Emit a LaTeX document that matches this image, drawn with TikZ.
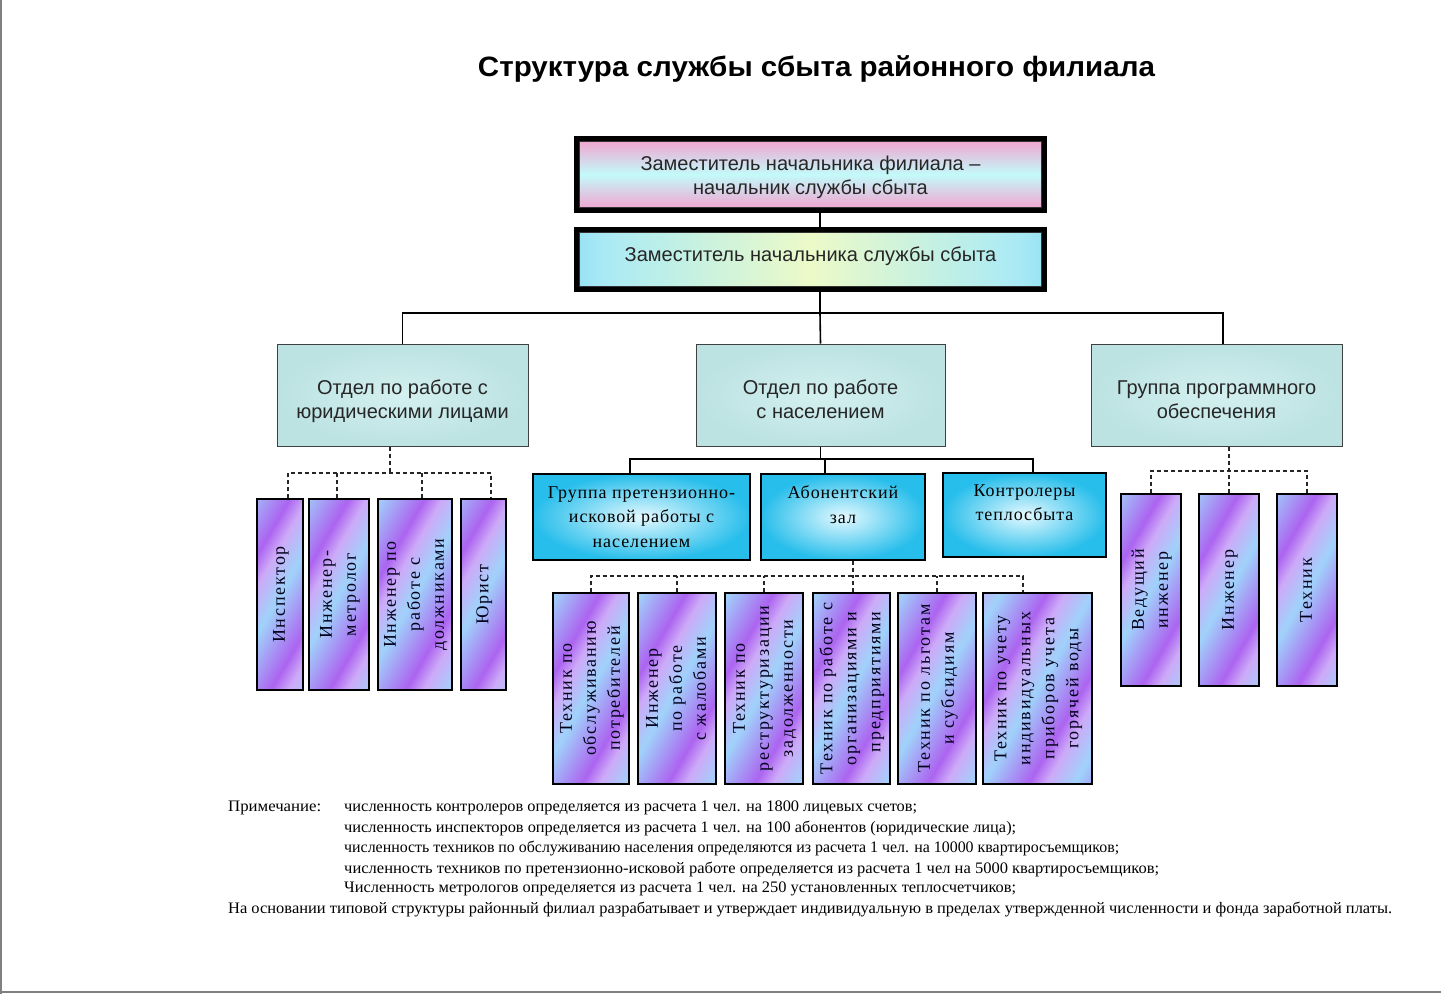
\documentclass[tikz,border=0pt]{standalone}
\usepackage{fontspec}
\usepackage{graphicx}
\usepackage{calc}
\setmainfont{Liberation Serif}
\newfontfamily\arialf{Liberation Sans}
\newfontfamily\vfont[LetterSpace=10]{Liberation Serif}
\newfontfamily\cfont[LetterSpace=5]{Liberation Serif}
\definecolor{stA}{RGB}{160,210,250}
\definecolor{stB}{RGB}{172,100,240}
\definecolor{stC}{RGB}{205,170,248}
\definecolor{pinkA}{RGB}{244,160,205}
\definecolor{cyanA}{RGB}{195,250,250}
\definecolor{cyB}{RGB}{50,190,238}
\definecolor{cyL}{RGB}{170,234,245}
\definecolor{grB}{RGB}{236,250,200}
\definecolor{tealA}{RGB}{212,240,240}
\definecolor{tealB}{RGB}{188,226,226}
\definecolor{skyA}{RGB}{40,190,235}
\definecolor{skyB}{RGB}{228,249,255}
\definecolor{frameg}{RGB}{128,128,128}
\pgfdeclarehorizontalshading{vstripes}{100bp}{color(0bp)=(stA); color(8.3bp)=(stB); color(11.5bp)=(stC); color(16.7bp)=(stA); color(25bp)=(stB); color(28.2bp)=(stC); color(33.3bp)=(stA); color(41.7bp)=(stB); color(44.9bp)=(stC); color(50bp)=(stA); color(58.3bp)=(stB); color(61.5bp)=(stC); color(66.7bp)=(stA); color(75bp)=(stB); color(78.2bp)=(stC); color(83.3bp)=(stA); color(91.7bp)=(stB); color(94.9bp)=(stC); color(100bp)=(stA)}
\pgfdeclarehorizontalshading{bgreen}{100bp}{color(0bp)=(cyB); color(9bp)=(cyB); color(28bp)=(cyL); color(50bp)=(grB); color(72bp)=(cyL); color(91bp)=(cyB); color(100bp)=(cyB)}
\newcommand{\fitw}[2]{\resizebox{#1pt}{\height}{#2}}
\newcommand{\vtext}[1]{\rotatebox{90}{\begin{tabular}{@{}c@{}}#1\end{tabular}}}
\newcommand{\btext}[2]{\raisebox{#1pt}[\height][\depth]{\begin{tabular}{@{}c@{}}#2\end{tabular}}}
\tikzset{
  conn/.style={line width=1.6pt, draw=black},
  dconn/.style={line width=1.5pt, draw=black!85, dash pattern=on 4pt off 3pt},
  topbox/.style={draw=black, line width=5pt, inner sep=0pt,
    font=\arialf\fontsize{20}{24}\selectfont, text=black!85},
  deptbox/.style={draw=black!75, line width=1pt, inner color=tealA, outer color=tealB,
    inner sep=0pt, font=\arialf\fontsize{20}{24}\selectfont, text=black!85},
  subbox/.style={draw=black, line width=1.2pt, inner color=skyB, outer color=skyA,
    inner sep=0pt, align=center, font=\cfont\fontsize{18}{24.5}\selectfont},
  vbox/.style={draw=black, line width=1.2pt, fill=stA, inner sep=0pt,
    font=\vfont\fontsize{18}{24}\selectfont, text=black!90!blue,
    path picture={\shade[shading=vstripes, shading angle=-30]
      ([shift={(-120,-120)}]path picture bounding box.center) rectangle
      ([shift={(120,120)}]path picture bounding box.center);}},
  note/.style={anchor=west, inner sep=0pt, font=\fontsize{16}{18}\selectfont}
}
\begin{document}
\begin{tikzpicture}[x=1pt,y=-1pt]
\useasboundingbox (0,0) rectangle (1441,994);
\fill[white] (0,0) rectangle (1441,994);
\draw[frameg, line width=2pt] (1,0) -- (1,994);
\draw[frameg, line width=2.5pt] (0,992) -- (1441,992);

% title
\node[inner sep=0pt] (title) at (816.5,69) {\fitw{677}{\arialf\bfseries\fontsize{28}{32}\selectfont Структура службы сбыта районного филиала}};

% top boxes
\node[topbox, minimum width=468, minimum height=72, top color=pinkA, bottom color=pinkA, middle color=cyanA] (b1) at (810.5,174.5) {\btext{-3}{Заместитель начальника филиала –\\начальник службы сбыта}};
\draw[black!80, line width=0.9pt] ([shift={(5.5,5.5)}]b1.north west) rectangle ([shift={(-5.5,-5.5)}]b1.south east);
\node[topbox, minimum width=468, minimum height=60, shading=bgreen] (b2) at (810.5,259.5) {\btext{3}{Заместитель начальника службы сбыта}};
\draw[black!80, line width=0.9pt] ([shift={(5.5,5.5)}]b2.north west) rectangle ([shift={(-5.5,-5.5)}]b2.south east);

% departments
\node[deptbox, minimum width=251, minimum height=102] (d1) at (402.5,395) {\btext{-7}{Отдел по работе с\\юридическими лицами}};
\node[deptbox, minimum width=249, minimum height=102] (d2) at (820.5,395) {\btext{-7}{Отдел по работе\\с населением}};
\node[deptbox, minimum width=251, minimum height=102] (d3) at (1216.5,395) {\btext{-7}{Группа программного\\обеспечения}};

% groups under d2
\node[subbox, minimum width=217, minimum height=86] (s1) at (641.5,517) {Группа претензионно-\\исковой работы с\\населением};
\node[subbox, minimum width=164, minimum height=86] (s2) at (843,517) {Абонентский\\зал\\\mbox{}};
\node[subbox, minimum width=163, minimum height=84] (s3) at (1024.5,515) {Контролеры\\теплосбыта\\\mbox{}};

% left vertical boxes
\node[vbox, minimum width=46, minimum height=191] (l1) at (280,594.5) {\vtext{Инспектор}};
\node[vbox, minimum width=60, minimum height=191] (l2) at (339,594.5) {\vtext{Инженер-\\метролог}};
\node[vbox, minimum width=74, minimum height=191] (l3) at (415,594.5) {\vtext{Инженер по\\работе с\\должниками}};
\node[vbox, minimum width=45, minimum height=191] (l4) at (483.5,594.5) {\vtext{Юрист}};

% middle vertical boxes
\node[vbox, minimum width=76, minimum height=191] (v1) at (591,688.5) {\vtext{Техник по\\обслуживанию\\потребителей}};
\node[vbox, minimum width=78, minimum height=191] (v2) at (677,688.5) {\vtext{Инженер\\по работе\\с жалобами}};
\node[vbox, minimum width=78, minimum height=191] (v3) at (764,688.5) {\vtext{Техник по\\реструктуризации\\задолженности}};
\node[vbox, minimum width=77, minimum height=191] (v4) at (851.5,688.5) {\vtext{Техник по работе с\\организациями и\\\makebox[\widthof{организациями и}][r]{предприятиями}}};
\node[vbox, minimum width=78, minimum height=191] (v5) at (937,688.5) {\vtext{Техник по льготам\\и субсидиям}};
\node[vbox, minimum width=109, minimum height=191] (v6) at (1037.5,688.5) {\vtext{Техник по учету\\индивидуальных\\приборов учета\\горячей воды}};

% right vertical boxes
\node[vbox, minimum width=60, minimum height=192] (r1) at (1151,590) {\vtext{Ведущий\\инженер}};
\node[vbox, minimum width=60, minimum height=192] (r2) at (1229,590) {\vtext{Инженер}};
\node[vbox, minimum width=60, minimum height=192] (r3) at (1307,590) {\vtext{Техник}};

% solid connectors
\coordinate (tbus) at (820,313);
\draw[conn] (b1.south -| tbus) -- (b2.north -| tbus);
\draw[conn] (b2.south -| tbus) -- (tbus);
\draw[conn] (d1.north) |- (tbus) -| ([xshift=6.5]d3.north);
\draw[conn] (tbus) -- (d2.north);
\coordinate (mbus) at (820,459);
\draw[conn] (d2.south) -- (d2.south |- mbus);
\draw[conn] ([xshift=-11.5]s1.north) |- ([xshift=8.5]s3.north |- mbus) -- ([xshift=8.5]s3.north);
\draw[conn] ([xshift=-18]s2.north) -- ([xshift=-18]s2.north |- mbus);

% dashed connectors left
\coordinate (lbus) at (390,473);
\draw[dconn] ([xshift=-12.5]d1.south) -- ([xshift=-12.5]d1.south |- lbus);
\draw[dconn] ([xshift=8]l1.north) |- ([xshift=7.5]l4.north |- lbus) -- ([xshift=7.5]l4.north);
\draw[dconn] ([xshift=-2]l2.north) -- ([xshift=-2]l2.north |- lbus);
\draw[dconn] ([xshift=7]l3.north) -- ([xshift=7]l3.north |- lbus);

% dashed connectors middle
\coordinate (mbus2) at (853,576);
\draw[dconn] ([xshift=10]s2.south) -- ([xshift=10]s2.south |- mbus2);
\draw[dconn] (v1.north) |- ([xshift=-14.5]v6.north |- mbus2) -- ([xshift=-14.5]v6.north);
\draw[dconn] (v2.north) -- (v2.north |- mbus2);
\draw[dconn] (v3.north) -- (v3.north |- mbus2);
\draw[dconn] ([xshift=1.5]v4.north) -- ([xshift=1.5]v4.north |- mbus2);
\draw[dconn] (v5.north) -- (v5.north |- mbus2);

% dashed connectors right
\coordinate (rbus) at (1229,471);
\draw[dconn] ([xshift=12.5]d3.south) -- ([xshift=12.5]d3.south |- rbus);
\draw[dconn] (r1.north) |- (r3.north |- rbus) -- (r3.north);
\draw[dconn] (r2.north) -- (r2.north |- rbus);

% notes
\node[note] (n0) at (228,808) {\fitw{93}{Примечание:}};
\node[note] (n1) at (344,808) {\fitw{573}{численность контролеров определяется из расчета 1 чел. на 1800 лицевых счетов;}};
\node[note] (n2) at (344,828) {\fitw{672}{численность инспекторов определяется из расчета 1 чел. на 100 абонентов (юридические лица);}};
\node[note] (n3) at (344,848) {\fitw{775}{численность техников по обслуживанию населения определяются из расчета 1 чел. на 10000 квартиросъемщиков;}};
\node[note] (n4) at (344,869) {\fitw{815}{численность техников по претензионно-исковой работе определяется из расчета 1 чел на 5000 квартиросъемщиков;}};
\node[note] (n5) at (344,889) {\fitw{672}{Численность метрологов определяется из расчета 1 чел. на 250 установленных теплосчетчиков;}};
\node[note] (n6) at (228,909) {\fitw{1164}{На основании типовой структуры районный филиал разрабатывает и утверждает индивидуальную в пределах утвержденной численности и фонда заработной платы.}};
\end{tikzpicture}
\end{document}
